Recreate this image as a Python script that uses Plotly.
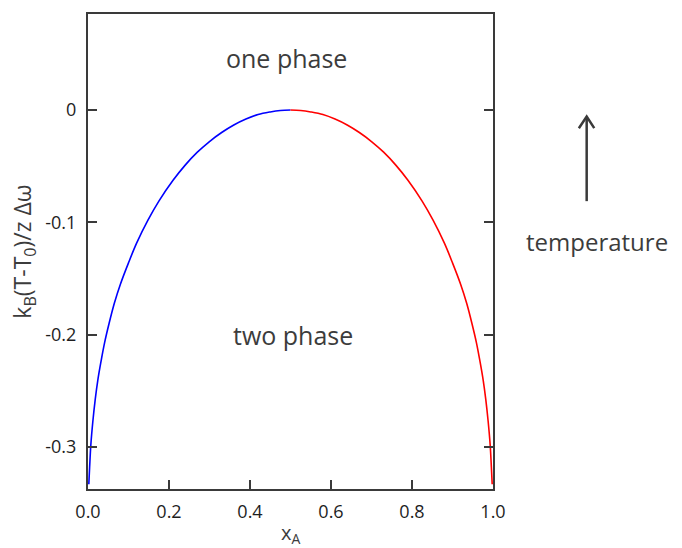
import plotly.graph_objects as go

# ---- data ----
blue_x = [0.002, 0.004, 0.007, 0.012, 0.018, 0.024, 0.032, 0.041, 0.052, 0.065,
          0.08, 0.10, 0.12, 0.148, 0.175, 0.21, 0.24, 0.27, 0.30, 0.33, 0.36,
          0.39, 0.42, 0.45, 0.475, 0.5]
blue_y = [-0.333, -0.318, -0.298, -0.277, -0.257, -0.241, -0.224, -0.207, -0.190, -0.172,
          -0.155, -0.136, -0.1185, -0.098, -0.081, -0.0625, -0.049, -0.0375, -0.028, -0.020,
          -0.0133, -0.008, -0.004, -0.0017, -0.0004, 0.0]
red_x = [0.5, 0.525, 0.55, 0.58, 0.61, 0.64, 0.67, 0.70, 0.73, 0.76, 0.79, 0.825,
         0.852, 0.88, 0.90, 0.92, 0.935, 0.948, 0.959, 0.968, 0.976, 0.982, 0.988,
         0.993, 0.996, 0.998]
red_y = [0.0, -0.0004, -0.0017, -0.004, -0.008, -0.0133, -0.020, -0.028, -0.0375, -0.049,
         -0.0625, -0.081, -0.098, -0.1185, -0.136, -0.155, -0.172, -0.190, -0.207, -0.224,
         -0.241, -0.257, -0.277, -0.298, -0.318, -0.333]

x_ticks = [0.0, 0.2, 0.4, 0.6, 0.8, 1.0]
x_tick_labels = ["0.0", "0.2", "0.4", "0.6", "0.8", "1.0"]
y_ticks = [0.0, -0.1, -0.2, -0.3]
y_tick_labels = ["0", "-0.1", "-0.2", "-0.3"]

FONT = "Open Sans"
AX = "#3a3a3a"
TXT = "#3c3c3c"
TICKC = "#1e1e1e"

fig = go.Figure()
fig.add_trace(go.Scatter(x=blue_x, y=blue_y, mode="lines",
                         line=dict(color="#0000ff", width=1.6, shape="spline", smoothing=1.0),
                         showlegend=False, hoverinfo="skip"))
fig.add_trace(go.Scatter(x=red_x, y=red_y, mode="lines",
                         line=dict(color="#ff0000", width=1.6, shape="spline", smoothing=1.0),
                         showlegend=False, hoverinfo="skip"))

fig.update_xaxes(range=[0.0, 1.0], tickvals=x_ticks, ticktext=x_tick_labels,
                 ticks="inside", ticklen=9, tickwidth=1.5, tickcolor=AX,
                 showline=True, linecolor=AX, linewidth=2, mirror=True,
                 showgrid=False, zeroline=False, ticklabelstandoff=5,
                 tickfont=dict(family=FONT, size=18, color=TICKC))
fig.update_yaxes(range=[-0.3373, 0.0855], tickvals=y_ticks, ticktext=y_tick_labels,
                 ticks="inside", ticklen=9, tickwidth=1.5, tickcolor=AX,
                 showline=True, linecolor=AX, linewidth=2, mirror="ticks",
                 showgrid=False, zeroline=False, ticklabelstandoff=6,
                 tickfont=dict(family=FONT, size=18, color=TICKC))

annotations = [
    dict(text="one phase", x=0.489, y=0.046, xref="x", yref="y", showarrow=False,
         xanchor="center", yanchor="middle", font=dict(family=FONT, size=25, color=TXT)),
    dict(text="two phase", x=0.506, y=-0.2, xref="x", yref="y", showarrow=False,
         xanchor="center", yanchor="middle", font=dict(family=FONT, size=25, color=TXT)),
    dict(text="temperature", x=1.257, y=0.522, xref="paper", yref="paper", showarrow=False,
         xanchor="center", yanchor="middle", font=dict(family=FONT, size=24, color=TXT)),
    dict(text="k<sub>B</sub>(T-T<sub>0</sub>)/z Δω", x=-0.16, y=0.5, xref="paper", yref="paper",
         showarrow=False, textangle=-90, xanchor="center", yanchor="middle",
         font=dict(family=FONT, size=23, color=TXT)),
    dict(text="x<sub>A</sub>", x=0.501, y=-0.094, xref="paper", yref="paper",
         showarrow=False, xanchor="center", yanchor="middle",
         font=dict(family=FONT, size=20, color=TXT)),
]

shapes = [
    dict(type="line", xref="paper", yref="paper", x0=1.2313, x1=1.2313, y0=0.606, y1=0.782,
         line=dict(color=AX, width=2.5)),
    dict(type="path", xref="paper", yref="paper",
         path="M 1.212,0.7596 L 1.2313,0.784 L 1.250,0.7596",
         line=dict(color=AX, width=2.5)),
]

fig.update_layout(width=682, height=548, margin=dict(l=88, r=189, t=12, b=59),
                  paper_bgcolor="white", plot_bgcolor="white",
                  annotations=annotations, shapes=shapes, showlegend=False)

fig.write_html("out.html")
